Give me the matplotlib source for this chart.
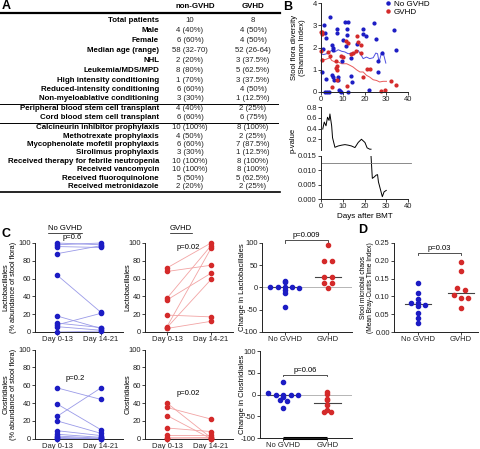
import numpy as np
import matplotlib
matplotlib.use('Agg')
import matplotlib.pyplot as plt
from matplotlib.lines import Line2D

plt.rcParams['font.family'] = ['Liberation Sans', 'DejaVu Sans']
plt.rcParams['font.size'] = 5.5

# ---------------- data ----------------
table_labels = ["Total patients", "Male", "Female", "Median age (range)", "NHL",
                "Leukemia/MDS/MPD", "High intensity conditioning",
                "Reduced-intensity conditioning", "Non-myeloablative conditioning",
                "Peripheral blood stem cell transplant", "Cord blood stem cell transplant",
                "Calcineurin inhibitor prophylaxis", "Methotrexate prophylaxis",
                "Mycophenolate mofetil prophylaxis", "Sirolimus prophylaxis",
                "Received therapy for febrile neutropenia", "Received vancomycin",
                "Received fluoroquinolone", "Received metronidazole"]
non_gvhd_col = ["10", "4 (40%)", "6 (60%)", "58 (32-70)", "2 (20%)", "8 (80%)", "1 (70%)",
                "6 (60%)", "3 (30%)", "4 (40%)", "6 (60%)", "10 (100%)", "4 (50%)", "6 (60%)",
                "3 (30%)", "10 (100%)", "10 (100%)", "5 (50%)", "2 (20%)"]
gvhd_col = ["8", "4 (50%)", "4 (50%)", "52 (26-64)", "3 (37.5%)", "5 (62.5%)", "3 (37.5%)",
            "4 (50%)", "1 (12.5%)", "2 (25%)", "6 (75%)", "8 (100%)", "2 (25%)", "7 (87.5%)",
            "1 (12.5%)", "8 (100%)", "8 (100%)", "5 (62.5%)", "2 (25%)"]

# Panel B: Shannon diversity vs day
blue_days = [4.1, 1.5, 1.8, 2.3, 0.8, 0.3, 2.1, 1.7, 2.6, 3.5, 5.0, 5.6, 5.3, 5.0, 5.3, 6.0,
             7.2, 7.2, 7.6, 8.0, 8.2, 8.9, 9.2, 9.5, 10.2, 11.1, 12.2, 11.8, 12.1, 11.3, 12.4,
             13.6, 14.0, 14.4, 16.5, 19.1, 19.1, 20.9, 22.1, 24.3, 25.3, 26.1, 26.3, 28.2,
             33.7, 34.3]
blue_div = [3.37, 3.03, 2.65, 2.43, 1.95, 0.9, 0.57, 0.02, 0.02, 0.02, 2.1, 2.0, 1.87, 0.75,
            0.67, 0.55, 2.83, 2.65, 0.67, 0.52, 0.1, 0.05, 0.0, 1.38, 2.32, 3.13, 3.13, 2.85,
            2.56, 2.07, 0.0, 1.53, 0.7, 0.46, 2.15, 2.83, 2.62, 2.5, 0.07, 3.1, 2.37, 1.4,
            0.9, 1.75, 2.77, 1.87]
red_days = [0.0, 0.6, 0.5, 0.0, 0.3, 3.4, 4.1, 4.9, 6.7, 7.2, 7.0, 7.5, 7.2, 9.3, 10.2, 11.3,
            12.2, 11.8, 13.7, 14.5, 16.0, 16.6, 16.8, 18.2, 18.6, 19.4, 21.2, 22.3, 27.5,
            29.3, 32.1, 34.4]
red_div = [2.7, 2.62, 2.7, 1.84, 1.42, 1.8, 1.6, 0.22, 1.38, 1.18, 1.08, 0.97, 0.52, 1.6, 1.57,
           2.29, 2.2, 0.27, 1.69, 1.75, 1.83, 2.53, 2.23, 2.13, 1.75, 0.67, 1.05, 1.05, 0.05,
           0.1, 0.51, 0.33]
blue_trend_days = [0, 1.1, 2.6, 4.9, 6.4, 7.9, 9.5, 11, 12.5, 14, 15.6, 16.3, 17.1, 17.9,
                   19.4, 20.9, 22.4, 24, 25.2, 26, 26.7, 27.8, 28.5, 29.8]
blue_trend = [1.72, 1.68, 1.72, 1.87, 1.8, 1.9, 1.83, 1.8, 1.72, 1.75, 1.72, 1.8, 1.87, 1.75,
              1.5, 1.57, 1.5, 1.54, 1.75, 1.72, 1.35, 1.75, 1.8, 1.3]
red_trend_days = [0, 1.8, 4.1, 4.9, 6.4, 7.9, 9.5, 11.8, 13.3, 14.8, 16.3, 17.9, 19.4, 20.9,
                  22.4, 24, 25.5, 27, 28.5, 30.1]
red_trend = [1.5, 1.45, 1.54, 1.42, 1.35, 1.35, 1.27, 1.27, 1.2, 1.12, 1.0, 0.9, 0.9, 0.75,
             0.67, 0.55, 0.52, 0.45, 0.48, 0.48]
p_hi_days = [0.8, 1.5, 2.3, 3.0, 3.7, 4.1, 4.9, 5.3, 6.4, 7.9, 9.5, 11.0, 12.5, 14.0, 15.6,
             17.1, 18.6, 20.2, 21.2, 22.4, 23.0]
p_hi = [0.39, 0.52, 0.45, 0.61, 0.55, 0.67, 0.45, 0.23, 0.05, 0.075, 0.09, 0.1, 0.09, 0.075,
        0.045, 0.14, 0.2, 0.14, 0.04, 0.015, 0.015]
p_lo_days = [23.0, 23.6, 24.5, 25.3, 26.0, 26.4, 27.4, 28.2, 29.0, 30.0]
p_lo = [0.015, 0.0072, 0.0077, 0.0083, 0.0085, 0.006, 0.0031, 0.0008, 0.0025, 0.003]
p_threshold = 0.0124

# Panel C: paired abundances
lacto_nogvhd_pre = [100, 98, 96, 88, 64, 18, 10, 8, 6, 0]
lacto_nogvhd_post = [98, 100, 95, 97, 22, 4, 5, 21, 2, 1]
lacto_gvhd_pre = [72, 68, 38, 36, 19, 6, 5, 4]
lacto_gvhd_post = [100, 75, 97, 66, 17, 94, 59, 12]
clos_nogvhd_pre = [57, 39, 25, 20, 9, 5, 3, 1.5, 0.5, 0]
clos_nogvhd_post = [44, 10, 57, 6, 3.5, 1.5, 0.5, 0, 0, 0.5]
clos_gvhd_pre = [40, 35, 26, 12, 4, 1, 0.5, 0]
clos_gvhd_post = [1, 22, 0, 8, 4, 0.5, 1.5, 0]
change_lacto_nogvhd = [15, 11, 0, 0, 0, 0, -1, -5, -12, -43]
change_lacto_gvhd = [95, 60, 60, 24, 24, 9, 9, -2]
change_clos_nogvhd = [30, 3, 0, 0, 0, 0, -6, -12, -15, -30]
change_clos_gvhd = [6, 1, -9, -13, -24, -36, -40, -40]
# Panel D
chaos_nogvhd = [0.138, 0.110, 0.094, 0.083, 0.083, 0.077, 0.074, 0.055, 0.040, 0.025]
chaos_gvhd = [0.197, 0.172, 0.124, 0.117, 0.103, 0.097, 0.097, 0.069]

pair_ticks = ["Day 0-13", "Day 14-21"]
group_ticks = ["No GVHD", "GVHD"]

# ---------------- styling ----------------
BLUE = '#1c1cc4'
RED = '#d42a2a'
LBLUE = '#9a9ae8'
LRED = '#f2a4a4'
W, H = 480, 449
fig = plt.figure(figsize=(W / 100, H / 100), dpi=100)


def fx(x):
    return x / W


def fy(y):
    return 1 - y / H


def rect(x0, y0, x1, y1):
    return [x0 / W, 1 - y1 / H, (x1 - x0) / W, (y1 - y0) / H]


def style(ax):
    for s in ('top', 'right'):
        ax.spines[s].set_visible(False)
    for s in ('left', 'bottom'):
        ax.spines[s].set_linewidth(0.7)
        ax.spines[s].set_color('#222222')
    ax.tick_params(length=2, width=0.6, labelsize=5.5, pad=1, colors='#222222')


def hline(x0, x1, y, lw, color='black'):
    fig.add_artist(Line2D([fx(x0), fx(x1)], [fy(y), fy(y)], lw=lw, color=color))


def swarm(vals, bin_size, step):
    vals = np.asarray(vals, float)
    offs = np.zeros(len(vals))
    keys = np.round(vals / bin_size).astype(int)
    for k in np.unique(keys):
        idx = np.where(keys == k)[0]
        n = len(idx)
        offs[idx] = (np.arange(n) - (n - 1) / 2) * step
    return offs


# ---------------- Panel A: table ----------------
fig.text(fx(2), fy(6), "A", fontsize=9, fontweight='bold', va='center', ha='left')
fig.text(fx(195), fy(6), "non-GVHD", fontsize=5.7, fontweight='bold', ha='center', va='center')
fig.text(fx(253), fy(6), "GVHD", fontsize=5.7, fontweight='bold', ha='center', va='center')
hline(0, 280, 13, 1.6)
row_y = [21, 31, 41, 51, 61, 70.5, 80, 89.5, 99, 109, 117.5, 127, 136, 145, 153, 161.5, 170,
         179, 187]
for lab, a, b, y in zip(table_labels, non_gvhd_col, gvhd_col, row_y):
    fig.text(fx(159), fy(y), lab, fontsize=5.7, fontweight='bold', ha='right', va='center')
    fig.text(fx(190), fy(y), a, fontsize=5.6, ha='center', va='center', color='#222222')
    fig.text(fx(253), fy(y), b, fontsize=5.6, ha='center', va='center', color='#222222')
hline(0, 278, 104, 0.7)
hline(0, 278, 122.5, 0.7)
hline(0, 280, 192, 1.2)

# ---------------- Panel B ----------------
fig.text(fx(283), fy(7), "B", fontsize=9, fontweight='bold', va='center', ha='left')
axb = fig.add_axes(rect(321, 3, 408, 92))
style(axb)
axb.plot(blue_trend_days, blue_trend, color='#5050e0', lw=0.7)
axb.plot(red_trend_days, red_trend, color='#e85a5a', lw=0.7)
axb.plot(blue_days, blue_div, 'o', ms=2, color=BLUE, clip_on=False)
axb.plot(red_days, red_div, 'o', ms=2, color=RED, clip_on=False)
axb.set_xlim(0, 40)
axb.set_ylim(0, 4)
axb.set_xticks([0, 10, 20, 30, 40])
axb.set_yticks([0, 1, 2, 3, 4])
fig.text(fx(298), fy(47.5), "Stool flora diversity\n(Shannon Index)", rotation=90,
         ha='center', va='center', fontsize=5.5, multialignment='center')
handles = [Line2D([], [], marker='o', ls='', ms=2.2, color=BLUE),
           Line2D([], [], marker='o', ls='', ms=2.2, color=RED)]
fig.legend(handles, group_ticks, loc='upper left', bbox_to_anchor=(fx(384), fy(0)),
           frameon=False, fontsize=5.8, handletextpad=0.2, labelspacing=0.1,
           handlelength=1.0, borderaxespad=0, borderpad=0)

axp1 = fig.add_axes(rect(321, 107, 408, 150))
style(axp1)
axp1.spines['bottom'].set_visible(False)
axp1.plot(p_hi_days, p_hi, color='black', lw=0.7)
axp1.set_xlim(0, 40)
axp1.set_ylim(0, 0.8)
axp1.set_yticks([0.2, 0.4, 0.6, 0.8])
axp1.set_yticklabels(["0.2", "0.4", "0.6", "0.8"])
axp1.set_xticks([])

axp2 = fig.add_axes(rect(321, 156, 408, 199))
style(axp2)
axp2.plot(p_lo_days, p_lo, color='black', lw=0.7)
axp2.axhline(p_threshold, color='#777777', lw=0.6, xmax=1.03, clip_on=False)
axp2.set_xlim(0, 40)
axp2.set_ylim(0, 0.015)
axp2.set_yticks([0, 0.005, 0.010, 0.015])
axp2.set_yticklabels(["0.000", "0.005", "0.010", "0.015"])
axp2.set_xticks([0, 10, 20, 30, 40])
axp2.set_xlabel("Days after BMT", fontsize=5.8, labelpad=2)
fig.text(fx(293), fy(140), "p-value", rotation=90, ha='center', va='center', fontsize=5.5)

# ---------------- Panel C ----------------
fig.text(fx(2), fy(234), "C", fontsize=9, fontweight='bold', va='center', ha='left')

titles = [fig.text(fx(65), fy(228), "No GVHD", ha='center', va='center', fontsize=5.5),
          fig.text(fx(181), fy(228), "GVHD", ha='center', va='center', fontsize=5.5)]


def paired(ax_rect, pre, post, lc, mc, ylab_x, ylab, ylab_y, ptxt, pxy):
    ax = fig.add_axes(rect(*ax_rect))
    style(ax)
    for a, b in zip(pre, post):
        ax.plot([0, 1], [a, b], color=lc, lw=0.6, clip_on=False)
    ax.plot(np.zeros(len(pre)), pre, 'o', ms=3, color=mc, clip_on=False, zorder=3)
    ax.plot(np.ones(len(post)), post, 'o', ms=3, color=mc, clip_on=False, zorder=3)
    ax.set_xlim(-0.5, 1.5)
    ax.set_ylim(0, 100)
    ax.set_yticks([0, 20, 40, 60, 80, 100])
    ax.set_xticks([0, 1])
    ax.set_xticklabels(pair_ticks)
    ax.text(pxy[0], pxy[1], ptxt, ha='center', va='center', fontsize=5.5)
    fig.text(fx(ylab_x), fy(ylab_y), ylab, rotation=90, ha='center', va='center',
             fontsize=5.3, multialignment='center', linespacing=1.05)
    return ax


paired((35, 243, 123, 332), lacto_nogvhd_pre, lacto_nogvhd_post, LBLUE, BLUE, 9.5,
       "Lactobacillales\n(% abundance of stool flora)", 287.5, "p=0.6", (0.35, 106))
paired((145, 243, 233, 332), lacto_gvhd_pre, lacto_gvhd_post, LRED, RED, 128,
       "Lactobacillales", 287.5, "p=0.02", (0.48, 95.5))
paired((35, 349.5, 123, 438.7), clos_nogvhd_pre, clos_nogvhd_post, LBLUE, BLUE, 9.5,
       "Clostridiales\n(% abundance of stool flora)", 394, "p=0.2", (0.41, 67))
paired((145, 349.5, 233, 438.7), clos_gvhd_pre, clos_gvhd_post, LRED, RED, 128,
       "Clostridiales", 394, "p=0.02", (0.48, 51))


def groups(ax_rect, v0, v1, ylim, yticks, yticklabels, binsz, step, xlim, ylab, ylab_x,
           bracket_y, bracket_drop, ptxt, zero_line=True, ylab_fs=5.5):
    ax = fig.add_axes(rect(*ax_rect))
    style(ax)
    if zero_line:
        ax.axhline(0, color='#aaaaaa', lw=0.6, zorder=1)
    o0 = swarm(v0, binsz, step)
    o1 = swarm(v1, binsz, step)
    ax.plot(0 + o0, v0, 'o', ms=3, color=BLUE, clip_on=False, zorder=3)
    ax.plot(1 + o1, v1, 'o', ms=3, color=RED, clip_on=False, zorder=3)
    ax.plot([-0.3, 0.3], [np.median(v0)] * 2, color='#444444', lw=0.8, zorder=2)
    ax.plot([0.7, 1.3], [np.median(v1)] * 2, color='#444444', lw=0.8, zorder=2)
    ax.set_xlim(*xlim)
    ax.set_ylim(*ylim)
    ax.set_yticks(yticks)
    ax.set_yticklabels(yticklabels)
    ax.set_xticks([0, 1])
    ax.set_xticklabels(group_ticks)
    ax.plot([0, 0, 1, 1], [bracket_y - bracket_drop, bracket_y, bracket_y,
                           bracket_y - bracket_drop], color='#333333', lw=0.6, clip_on=False)
    ax.text(0.5, bracket_y + bracket_drop * 0.4, ptxt, ha='center', va='bottom', fontsize=5.5)
    fig.text(fx(ylab_x), fy((ax_rect[1] + ax_rect[3]) / 2), ylab, rotation=90, ha='center',
             va='center', fontsize=ylab_fs, multialignment='center', linespacing=1.05)
    return ax


groups((262, 242.7, 352, 332), change_lacto_nogvhd, change_lacto_gvhd, (-100, 100),
       [-100, -50, 0, 50, 100], ["-100", "-50", "0", "50", "100"], 8, 0.17, (-0.53, 1.56),
       "Change in Lactobacillales", 242, 106, 7, "p=0.009")
axc = groups((260, 351, 352, 438.3), change_clos_nogvhd, change_clos_gvhd, (-100, 100),
             [-100, -50, 0, 50, 100], ["-100", "-50", "0", "50", "100"], 8, 0.17,
             (-0.53, 1.56), "Change in Clostridiales", 242, 46, 4, "p=0.06")
axc.plot([0, 1], [-100, -100], color='black', lw=2.2, clip_on=False, solid_capstyle='butt')

# ---------------- Panel D ----------------
fig.text(fx(363), fy(230), "D", fontsize=9, fontweight='bold', va='center', ha='center')
groups((394, 242.7, 478, 332.3), chaos_nogvhd, chaos_gvhd, (0, 0.25),
       [0, 0.05, 0.10, 0.15, 0.20, 0.25], ["0.00", "0.05", "0.10", "0.15", "0.20", "0.25"],
       0.01, 0.17, (-0.56, 1.4), "Stool microbial chaos\n(Mean Bray-Curtis Time Index)", 367,
       0.222, 0.006, "p=0.03", zero_line=False, ylab_fs=4.8)

# underline C titles
fig.canvas.draw()
r = fig.canvas.get_renderer()
for t in titles:
    bb = t.get_window_extent(r)
    y = bb.y0 - 1.5
    fig.add_artist(Line2D([bb.x0 / W, bb.x1 / W], [y / H, y / H], lw=0.5, color='black'))

fig.savefig('out.png', dpi=100)
